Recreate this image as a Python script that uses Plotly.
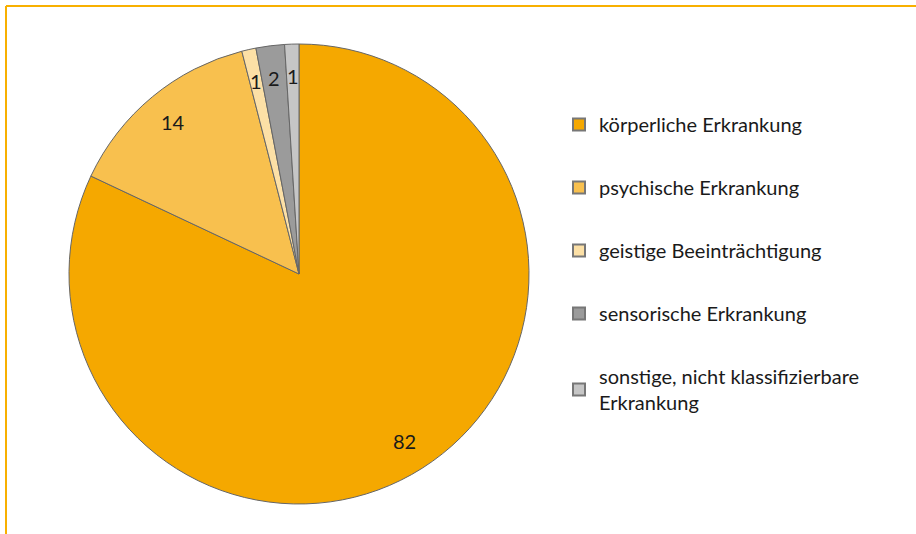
import math
import plotly.graph_objects as go

labels = ["körperliche Erkrankung", "psychische Erkrankung", "geistige Beeinträchtigung",
          "sensorische Erkrankung", "sonstige, nicht klassifizierbare<br>Erkrankung"]
values = [82, 14, 1, 2, 1]
colors = ["#F5A800", "#F8C04E", "#FCE0A6", "#9B9B9B", "#C6C6C6"]

W, H = 916, 534
font = "Lato, Source Sans Pro, Noto Sans, sans-serif"

# pie box in pixels (left, top, size) -> paper domain
px0, py0, size = 69, 44, 460
dom_x = [px0 / W, (px0 + size) / W]
dom_y = [1 - (py0 + size) / H, 1 - py0 / H]

fig = go.Figure()
fig.add_trace(go.Pie(
    labels=labels, values=values, sort=False, direction="clockwise",
    marker=dict(colors=colors, line=dict(color="#666666", width=1)),
    textinfo="none", showlegend=False, hoverinfo="label+value",
    domain=dict(x=dom_x, y=dom_y),
))

# value labels placed near the rim, at each slice's middle angle
cx, cy, r = px0 + size / 2, py0 + size / 2, size / 2
total = sum(values)
acc = 0
annotations = []
for v in values:
    mid = (acc + v / 2) / total * 2 * math.pi
    acc += v
    lx = cx + 0.86 * r * math.sin(mid)
    ly = cy - 0.86 * r * math.cos(mid)
    annotations.append(dict(x=lx / W, y=1 - ly / H, xref="paper", yref="paper",
                            xanchor="center", yanchor="middle",
                            text=str(v), showarrow=False, font=dict(size=20, color="#1a1a1a")))

# legend entries as dummy traces so the spacing can be set
for i, (lab, col) in enumerate(zip(labels, colors)):
    fig.add_trace(go.Scatter(
        x=[None], y=[None], mode="markers", name=lab, legendgroup=str(i),
        marker=dict(symbol="square", size=13, color=col, line=dict(color="#777777", width=1)),
    ))

fig.update_layout(
    width=W, height=H, margin=dict(l=0, r=0, t=0, b=0),
    paper_bgcolor="white", plot_bgcolor="white",
    font=dict(family=font, size=20, color="#1a1a1a"),
    xaxis=dict(visible=False), yaxis=dict(visible=False),
    annotations=annotations,
    legend=dict(x=559 / W, y=1 - 105 / H, xanchor="left", yanchor="top",
                traceorder="grouped", tracegroupgap=34, font=dict(size=20),
                itemsizing="constant"),
    shapes=[
        dict(type="line", xref="paper", yref="paper", x0=6 / W, x1=1, y0=1 - 6 / H, y1=1 - 6 / H,
             line=dict(color="#F8B000", width=2)),
        dict(type="line", xref="paper", yref="paper", x0=6 / W, x1=6 / W, y0=0, y1=1 - 6 / H,
             line=dict(color="#F8B000", width=2)),
    ],
)

fig.write_html("out.html", config={"displayModeBar": False},
               post_script="document.body.style.margin='0';")
